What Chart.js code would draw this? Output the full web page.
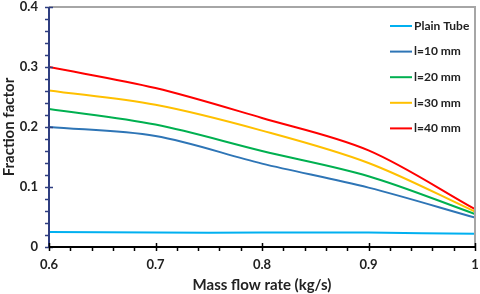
<!DOCTYPE html>
<html>
<head>
<meta charset="utf-8">
<script src="https://cdn.jsdelivr.net/npm/chart.js@4"></script>
<style>
    html, body { margin: 0; padding: 0; background: #fff; }
    #wrap { width: 480px; height: 294px; }
</style>
</head>
<body>
<div id="wrap"><canvas id="chart" width="480" height="294"></canvas></div>
<script>
// ======= Data =======
const flowRates = [0.6, 0.7, 0.8, 0.9, 1.0];
const plainTube = [0.025, 0.024, 0.024, 0.024, 0.022];
const l10 = [0.200, 0.185, 0.139, 0.099, 0.049];
const l20 = [0.230, 0.204, 0.160, 0.118, 0.055];
const l30 = [0.261, 0.237, 0.194, 0.140, 0.059];
const l40 = [0.300, 0.265, 0.215, 0.161, 0.063];
const seriesNames = ['Plain Tube', 'l=10 mm', 'l=20 mm', 'l=30 mm', 'l=40 mm'];
const seriesColors = ['#00B0F0', '#2E75B6', '#00B050', '#FFC000', '#FF0000'];

const FONT = 'Lato, "Open Sans", sans-serif';

function toPoints(values) {
    return flowRates.map((x, i) => ({ x: x, y: values[i] }));
}

// ======= Axis decorations: frame, minor/major ticks, legend =======
const decorPlugin = {
    id: 'decor',
    afterDraw(chart) {
        const ctx = chart.ctx;
        const area = chart.chartArea;
        const xs = chart.scales.x;
        const ys = chart.scales.y;
        ctx.save();

        // gray top / right frame
        ctx.strokeStyle = '#A6A6A6';
        ctx.lineWidth = 2;
        ctx.beginPath();
        ctx.moveTo(area.left, area.top);
        ctx.lineTo(area.right, area.top);
        ctx.lineTo(area.right, area.bottom);
        ctx.stroke();

        // y axis ticks (navy)
        ctx.strokeStyle = '#2F3E80';
        ctx.lineWidth = 1.5;
        for (let v = 0; v <= 0.4001; v += 0.02) {
            const py = Math.round(ys.getPixelForValue(v)) + 0.5;
            const major = Math.abs(v * 10 - Math.round(v * 10)) < 1e-6;
            ctx.beginPath();
            ctx.moveTo(area.left - 4, py);
            ctx.lineTo(area.left + (major ? 4 : 0), py);
            ctx.stroke();
        }
        ctx.lineWidth = 2;
        ctx.beginPath();
        ctx.moveTo(area.left, area.top);
        ctx.lineTo(area.left, area.bottom);
        ctx.stroke();

        // x axis ticks (black)
        ctx.strokeStyle = '#000';
        ctx.lineWidth = 1.5;
        for (let v = 0.6; v <= 1.0001; v += 0.02) {
            const px = Math.round(xs.getPixelForValue(v)) + 0.5;
            const major = Math.abs(v * 10 - Math.round(v * 10)) < 1e-6;
            ctx.beginPath();
            ctx.moveTo(px, area.bottom - (major ? 4 : 0));
            ctx.lineTo(px, area.bottom + 4);
            ctx.stroke();
        }
        ctx.lineWidth = 2;
        ctx.beginPath();
        ctx.moveTo(area.left, area.bottom);
        ctx.lineTo(area.right, area.bottom);
        ctx.stroke();

        // legend, top right inside the plot
        ctx.font = 'bold 12px ' + FONT;
        ctx.textBaseline = 'middle';
        ctx.textAlign = 'left';
        chart.data.datasets.forEach((ds, i) => {
            const ly = 26 + i * 25.6;
            ctx.strokeStyle = ds.borderColor;
            ctx.lineWidth = 2;
            ctx.beginPath();
            ctx.moveTo(390, ly);
            ctx.lineTo(412, ly);
            ctx.stroke();
            ctx.fillStyle = '#222';
            ctx.fillText(ds.label, 414, ly);
        });
        ctx.restore();
    }
};

// ======= Build the chart =======
new Chart(document.getElementById('chart'), {
    type: 'line',
    data: {
        datasets: [plainTube, l10, l20, l30, l40].map((vals, i) => ({
            label: seriesNames[i],
            data: toPoints(vals),
            borderColor: seriesColors[i],
            borderWidth: 2,
            pointRadius: 0,
            tension: 0.33, // close to Excel's smoothed line
            fill: false
        }))
    },
    options: {
        responsive: false,
        animation: false,
        layout: { padding: { top: 7, right: 5, left: 0, bottom: 0 } },
        plugins: { legend: { display: false }, tooltip: { enabled: false } },
        scales: {
            x: {
                type: 'linear',
                min: 0.6,
                max: 1.0,
                grid: { display: false, drawTicks: false },
                border: { display: false },
                ticks: {
                    stepSize: 0.1,
                    padding: 10,
                    color: '#222',
                    font: { family: FONT, size: 13, weight: 'bold' },
                    callback: v => String(Math.round(v * 10) / 10)
                },
                title: {
                    display: true,
                    text: 'Mass flow rate (kg/s)',
                    color: '#222',
                    font: { family: FONT, size: 15, weight: 'bold' },
                    padding: { top: 2, bottom: 0 }
                },
                afterFit: s => { s.height = 47; s.paddingLeft = 0; s.paddingRight = 0; }
            },
            y: {
                min: 0,
                max: 0.4,
                grid: { display: false, drawTicks: false },
                border: { display: false },
                ticks: {
                    stepSize: 0.1,
                    padding: 11,
                    color: '#222',
                    font: { family: FONT, size: 13, weight: 'bold' },
                    callback: v => String(Math.round(v * 10) / 10)
                },
                title: {
                    display: true,
                    text: 'Fraction factor',
                    color: '#222',
                    font: { family: FONT, size: 15, weight: 'bold' },
                    padding: { top: 0, bottom: 0 }
                },
                afterFit: s => { s.width = 49; s.paddingTop = 0; s.paddingBottom = 0; }
            }
        }
    },
    plugins: [decorPlugin]
});
</script>
</body>
</html>
